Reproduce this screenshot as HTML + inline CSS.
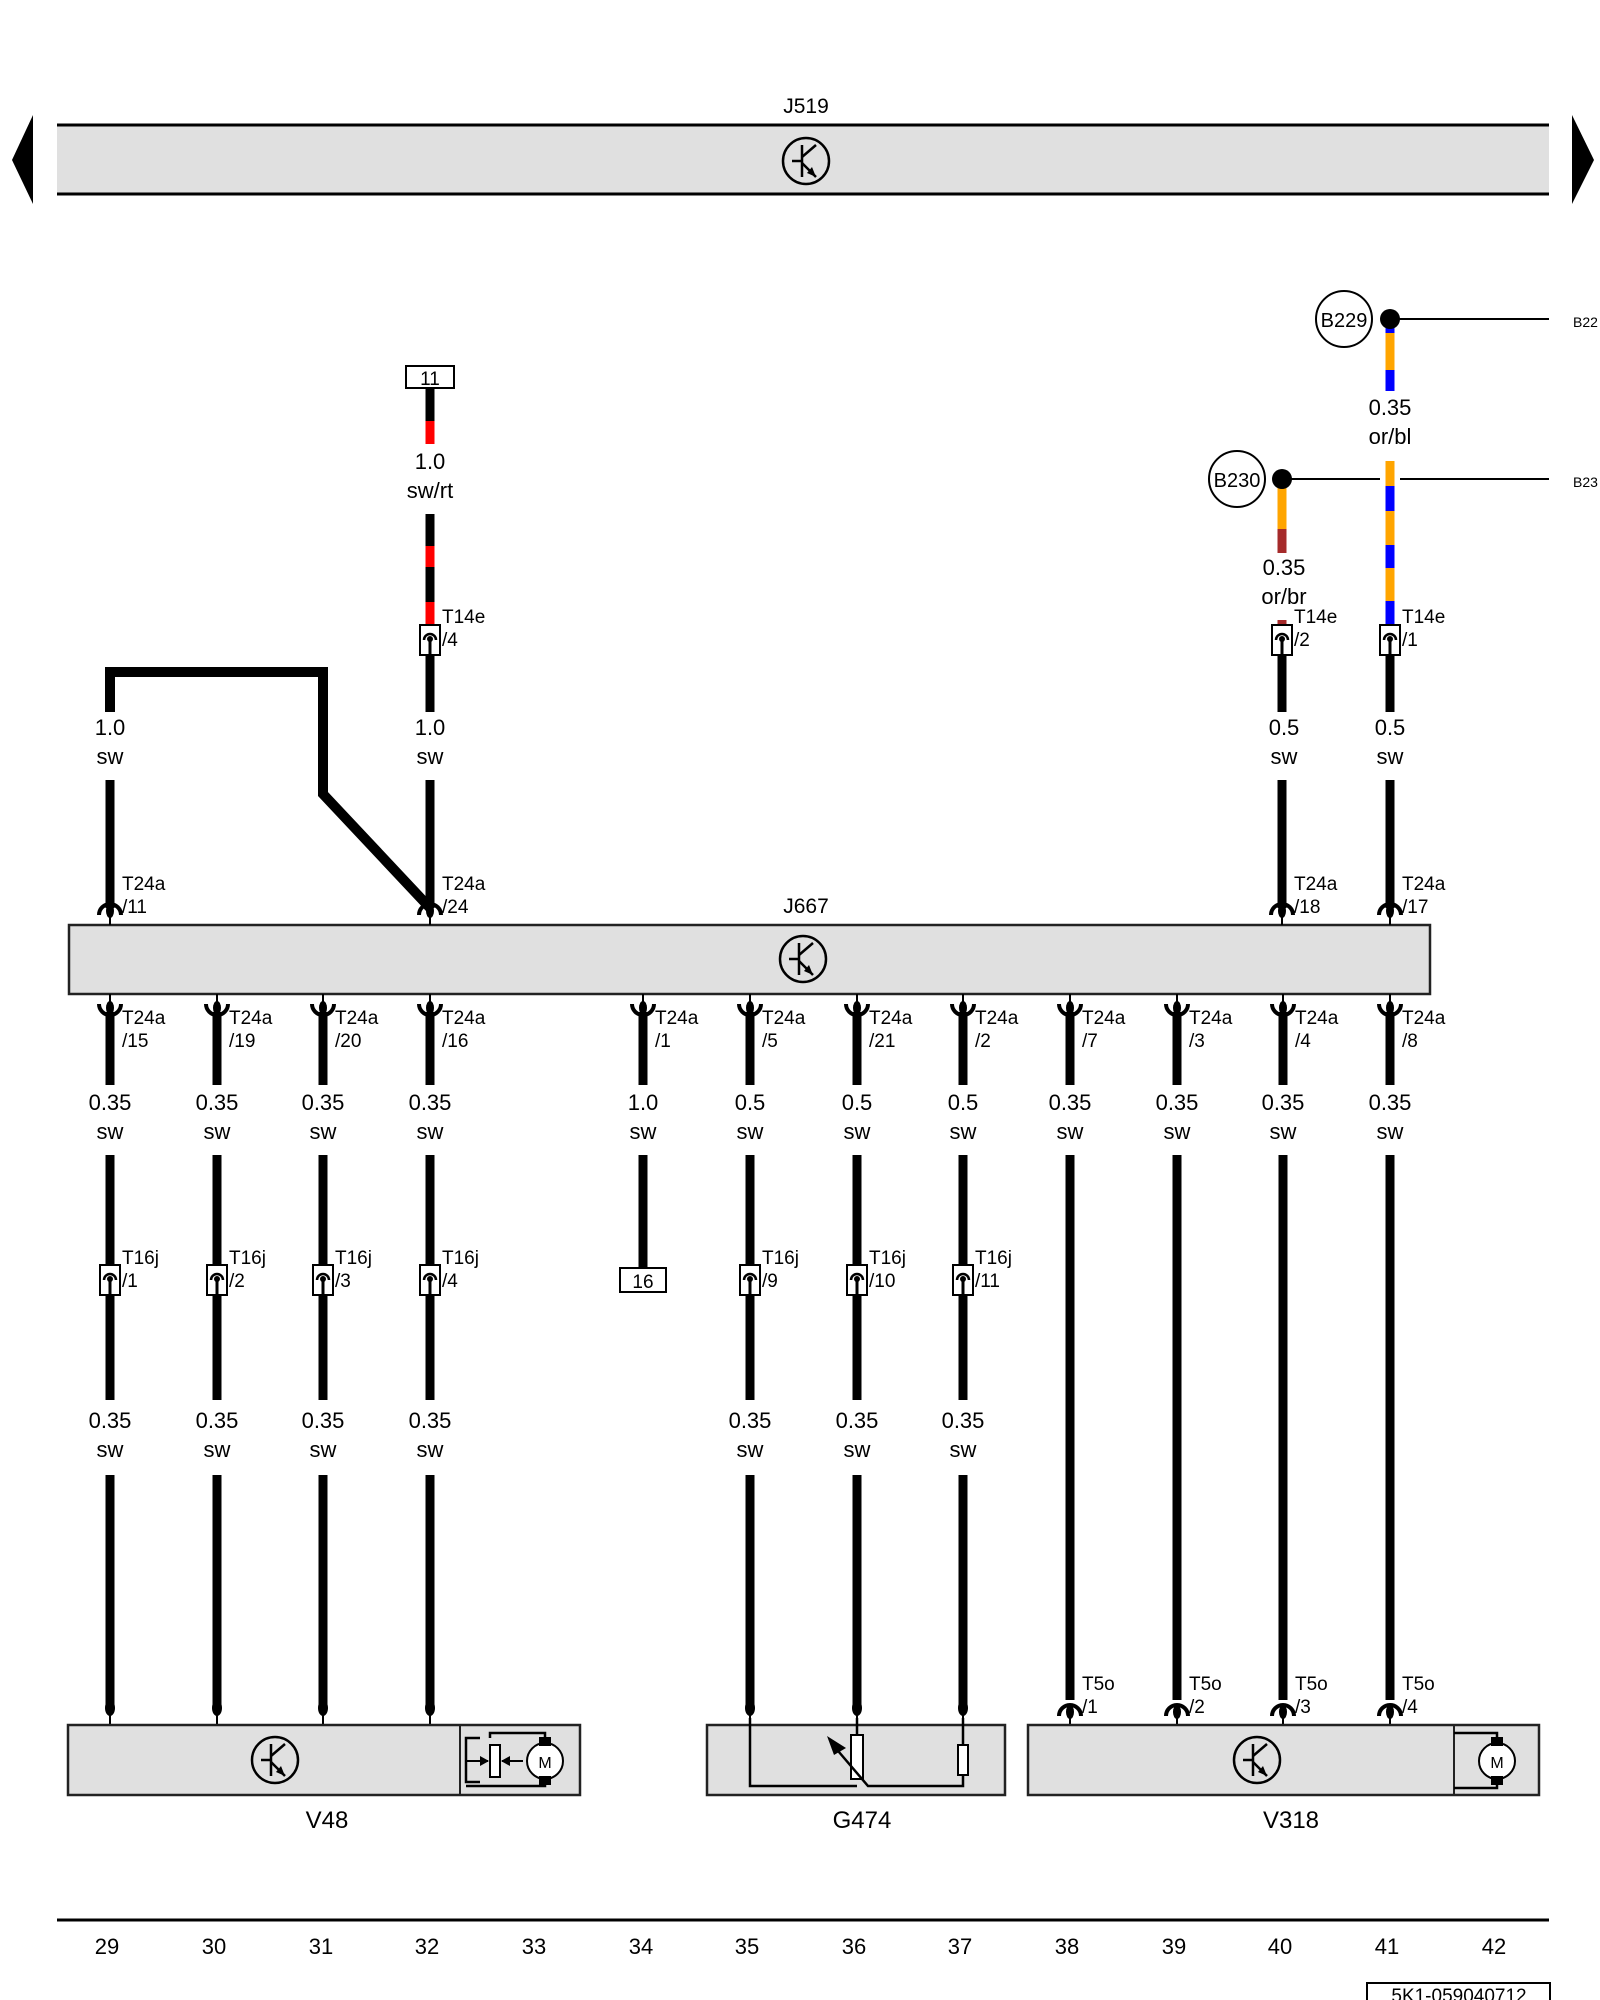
<!DOCTYPE html>
<html><head><meta charset="utf-8"><style>
html,body{margin:0;padding:0;background:#fff;}
svg{display:block;font-family:"Liberation Sans",sans-serif;}
.w{stroke:#000;stroke-width:9;fill:none}
.t{font-size:22px;text-anchor:middle}
.p{font-size:19px}
.b{fill:#e0e0e0;stroke:#222;stroke-width:2.5}
</style></head><body>
<svg width="1600" height="2000" viewBox="0 0 1600 2000" xmlns="http://www.w3.org/2000/svg">
<defs>
<g id="sym"><circle r="23" fill="none" stroke="#000" stroke-width="2.5"/><line x1="-4" y1="-16" x2="-4" y2="16" stroke="#000" stroke-width="2.5"/><line x1="-14" y1="0" x2="-4" y2="0" stroke="#000" stroke-width="2.5"/><line x1="-4" y1="-4" x2="10" y2="-16" stroke="#000" stroke-width="2.5"/><line x1="-4" y1="2" x2="10" y2="16" stroke="#000" stroke-width="2.5"/><polygon points="10,16 1,12 6,6" fill="#000"/></g>
<g id="pd"><path d="M-11,8 A11,11 0 0 1 11,8" fill="none" stroke="#000" stroke-width="4"/><ellipse cx="0" cy="4" rx="4" ry="7"/><line x1="0" y1="8" x2="0" y2="18" stroke="#000" stroke-width="2"/></g>
<g id="pu"><path d="M-11,-8 A11,11 0 0 0 11,-8" fill="none" stroke="#000" stroke-width="4"/><ellipse cx="0" cy="-4" rx="4" ry="7"/><line x1="0" y1="-8" x2="0" y2="-18" stroke="#000" stroke-width="2"/></g>
<g id="cn"><rect x="-10" y="-15" width="20" height="30" fill="#fff" stroke="#000" stroke-width="2"/><path d="M-6,0 A6,6 0 0 1 6,0" fill="none" stroke="#000" stroke-width="2.5"/><line x1="0" y1="-2" x2="0" y2="15" stroke="#000" stroke-width="3"/><circle cx="0" cy="-1" r="3"/></g>
<g id="dt"><ellipse cx="0" cy="0" rx="5" ry="8"/><line x1="0" y1="0" x2="0" y2="18" stroke="#000" stroke-width="2"/></g>
</defs>

<!-- J519 -->
<text x="806" y="113" class="t" style="font-size:21px">J519</text>
<rect x="57" y="125" width="1492" height="69" fill="#e0e0e0"/>
<line x1="57" y1="125" x2="1549" y2="125" stroke="#000" stroke-width="3"/>
<line x1="57" y1="194" x2="1549" y2="194" stroke="#000" stroke-width="3"/>
<use href="#sym" x="806" y="161"/>
<polygon points="33,115 12,160 33,204"/>
<polygon points="1572,115 1594,160 1572,204"/>

<!-- wire 29 upper + loop -->
<polyline points="110,712 110,672 323,672 323,794 430,908" fill="none" stroke="#000" stroke-width="10"/>
<line x1="110" y1="780" x2="110" y2="908" class="w"/>
<text x="110" y="735" class="t">1.0</text><text x="110" y="764" class="t">sw</text>

<!-- col 32 upper -->
<rect x="406" y="366" width="48" height="22" fill="#fff" stroke="#000" stroke-width="2"/><text x="430" y="385" class="t" style="font-size:19px">11</text>
<line x1="430" y1="388" x2="430" y2="444" class="w"/><line x1="430" y1="421" x2="430" y2="444" stroke="#f00" stroke-width="9"/>
<text x="430" y="469" class="t">1.0</text><text x="430" y="498" class="t">sw/rt</text>
<line x1="430" y1="514" x2="430" y2="625" class="w"/>
<line x1="430" y1="546" x2="430" y2="567" stroke="#f00" stroke-width="9"/>
<line x1="430" y1="602" x2="430" y2="625" stroke="#f00" stroke-width="9"/>
<use href="#cn" x="430" y="640"/>
<text x="442" y="623" class="p">T14e</text><text x="442" y="646" class="p">/4</text>
<line x1="430" y1="655" x2="430" y2="712" class="w"/>
<text x="430" y="735" class="t">1.0</text><text x="430" y="764" class="t">sw</text>
<line x1="430" y1="780" x2="430" y2="908" class="w"/>

<!-- right upper -->
<circle cx="1344" cy="319" r="28" fill="#fff" stroke="#000" stroke-width="2"/><text x="1344" y="327" class="t" style="font-size:20px">B229</text>
<line x1="1390" y1="319" x2="1549" y2="319" stroke="#000" stroke-width="2"/>
<text x="1573" y="327" style="font-size:14px">B22</text>
<line x1="1390" y1="319" x2="1390" y2="391" stroke="#ffa500" stroke-width="9"/>
<line x1="1390" y1="325" x2="1390" y2="333" stroke="#00f" stroke-width="9"/>
<line x1="1390" y1="370" x2="1390" y2="391" stroke="#00f" stroke-width="9"/>
<circle cx="1390" cy="319" r="10"/>
<text x="1390" y="415" class="t">0.35</text><text x="1390" y="444" class="t">or/bl</text>
<circle cx="1237" cy="479" r="28" fill="#fff" stroke="#000" stroke-width="2"/><text x="1237" y="487" class="t" style="font-size:20px">B230</text>
<line x1="1282" y1="479" x2="1380" y2="479" stroke="#000" stroke-width="2"/>
<line x1="1400" y1="479" x2="1549" y2="479" stroke="#000" stroke-width="2"/>
<text x="1573" y="487" style="font-size:14px">B23</text>
<line x1="1390" y1="461" x2="1390" y2="625" stroke="#ffa500" stroke-width="9"/>
<line x1="1390" y1="486" x2="1390" y2="511" stroke="#00f" stroke-width="9"/>
<line x1="1390" y1="545" x2="1390" y2="568" stroke="#00f" stroke-width="9"/>
<line x1="1390" y1="601" x2="1390" y2="625" stroke="#00f" stroke-width="9"/>
<line x1="1282" y1="479" x2="1282" y2="553" stroke="#ffa500" stroke-width="9"/>
<line x1="1282" y1="529" x2="1282" y2="553" stroke="#a52a2a" stroke-width="9"/>
<circle cx="1282" cy="479" r="10"/>
<text x="1284" y="575" class="t">0.35</text><text x="1284" y="604" class="t">or/br</text>
<line x1="1282" y1="620" x2="1282" y2="625" stroke="#a52a2a" stroke-width="9"/>
<use href="#cn" x="1282" y="640"/><use href="#cn" x="1390" y="640"/>
<text x="1294" y="623" class="p">T14e</text><text x="1294" y="646" class="p">/2</text>
<text x="1402" y="623" class="p">T14e</text><text x="1402" y="646" class="p">/1</text>
<line x1="1282" y1="655" x2="1282" y2="712" class="w"/><line x1="1390" y1="655" x2="1390" y2="712" class="w"/>
<text x="1284" y="735" class="t">0.5</text><text x="1284" y="764" class="t">sw</text>
<text x="1390" y="735" class="t">0.5</text><text x="1390" y="764" class="t">sw</text>
<line x1="1282" y1="780" x2="1282" y2="908" class="w"/><line x1="1390" y1="780" x2="1390" y2="908" class="w"/>

<!-- J667 -->
<text x="806" y="913" class="t" style="font-size:21px">J667</text>
<rect x="69" y="925" width="1361" height="69" class="b"/>
<use href="#sym" x="803" y="959"/>
<use href="#pd" x="110" y="907"/><use href="#pd" x="430" y="907"/><use href="#pd" x="1282" y="907"/><use href="#pd" x="1390" y="907"/>
<g class="p">
<text x="122" y="890">T24a</text><text x="122" y="913">/11</text>
<text x="442" y="890">T24a</text><text x="442" y="913">/24</text>
<text x="1294" y="890">T24a</text><text x="1294" y="913">/18</text>
<text x="1402" y="890">T24a</text><text x="1402" y="913">/17</text>
</g>

<!-- bottom pins -->
<g>
<use href="#pu" x="110" y="1012"/><use href="#pu" x="217" y="1012"/><use href="#pu" x="323" y="1012"/><use href="#pu" x="430" y="1012"/>
<use href="#pu" x="643" y="1012"/><use href="#pu" x="750" y="1012"/><use href="#pu" x="857" y="1012"/><use href="#pu" x="963" y="1012"/>
<use href="#pu" x="1070" y="1012"/><use href="#pu" x="1177" y="1012"/><use href="#pu" x="1283" y="1012"/><use href="#pu" x="1390" y="1012"/>
</g>
<g class="p">
<text x="122" y="1024">T24a</text><text x="122" y="1047">/15</text>
<text x="229" y="1024">T24a</text><text x="229" y="1047">/19</text>
<text x="335" y="1024">T24a</text><text x="335" y="1047">/20</text>
<text x="442" y="1024">T24a</text><text x="442" y="1047">/16</text>
<text x="655" y="1024">T24a</text><text x="655" y="1047">/1</text>
<text x="762" y="1024">T24a</text><text x="762" y="1047">/5</text>
<text x="869" y="1024">T24a</text><text x="869" y="1047">/21</text>
<text x="975" y="1024">T24a</text><text x="975" y="1047">/2</text>
<text x="1082" y="1024">T24a</text><text x="1082" y="1047">/7</text>
<text x="1189" y="1024">T24a</text><text x="1189" y="1047">/3</text>
<text x="1295" y="1024">T24a</text><text x="1295" y="1047">/4</text>
<text x="1402" y="1024">T24a</text><text x="1402" y="1047">/8</text>
</g>
<g class="w">
<line x1="110" y1="1012" x2="110" y2="1085"/><line x1="217" y1="1012" x2="217" y2="1085"/><line x1="323" y1="1012" x2="323" y2="1085"/><line x1="430" y1="1012" x2="430" y2="1085"/>
<line x1="643" y1="1012" x2="643" y2="1085"/><line x1="750" y1="1012" x2="750" y2="1085"/><line x1="857" y1="1012" x2="857" y2="1085"/><line x1="963" y1="1012" x2="963" y2="1085"/>
<line x1="1070" y1="1012" x2="1070" y2="1085"/><line x1="1177" y1="1012" x2="1177" y2="1085"/><line x1="1283" y1="1012" x2="1283" y2="1085"/><line x1="1390" y1="1012" x2="1390" y2="1085"/>
</g>
<g class="t">
<text x="110" y="1110">0.35</text><text x="217" y="1110">0.35</text><text x="323" y="1110">0.35</text><text x="430" y="1110">0.35</text>
<text x="643" y="1110">1.0</text><text x="750" y="1110">0.5</text><text x="857" y="1110">0.5</text><text x="963" y="1110">0.5</text>
<text x="1070" y="1110">0.35</text><text x="1177" y="1110">0.35</text><text x="1283" y="1110">0.35</text><text x="1390" y="1110">0.35</text>
<text x="110" y="1139">sw</text><text x="217" y="1139">sw</text><text x="323" y="1139">sw</text><text x="430" y="1139">sw</text>
<text x="643" y="1139">sw</text><text x="750" y="1139">sw</text><text x="857" y="1139">sw</text><text x="963" y="1139">sw</text>
<text x="1070" y="1139">sw</text><text x="1177" y="1139">sw</text><text x="1283" y="1139">sw</text><text x="1390" y="1139">sw</text>
</g>
<g class="w">
<line x1="110" y1="1155" x2="110" y2="1400"/><line x1="217" y1="1155" x2="217" y2="1400"/><line x1="323" y1="1155" x2="323" y2="1400"/><line x1="430" y1="1155" x2="430" y2="1400"/>
<line x1="643" y1="1155" x2="643" y2="1268"/><line x1="750" y1="1155" x2="750" y2="1400"/><line x1="857" y1="1155" x2="857" y2="1400"/><line x1="963" y1="1155" x2="963" y2="1400"/>
<line x1="1070" y1="1155" x2="1070" y2="1700"/><line x1="1177" y1="1155" x2="1177" y2="1700"/><line x1="1283" y1="1155" x2="1283" y2="1700"/><line x1="1390" y1="1155" x2="1390" y2="1700"/>
</g>
<rect x="620" y="1268" width="46" height="24" fill="#fff" stroke="#000" stroke-width="2"/><text x="643" y="1288" class="t" style="font-size:19px">16</text>
<use href="#cn" x="110" y="1280"/><use href="#cn" x="217" y="1280"/><use href="#cn" x="323" y="1280"/><use href="#cn" x="430" y="1280"/>
<use href="#cn" x="750" y="1280"/><use href="#cn" x="857" y="1280"/><use href="#cn" x="963" y="1280"/>
<g class="p">
<text x="122" y="1264">T16j</text><text x="122" y="1287">/1</text>
<text x="229" y="1264">T16j</text><text x="229" y="1287">/2</text>
<text x="335" y="1264">T16j</text><text x="335" y="1287">/3</text>
<text x="442" y="1264">T16j</text><text x="442" y="1287">/4</text>
<text x="762" y="1264">T16j</text><text x="762" y="1287">/9</text>
<text x="869" y="1264">T16j</text><text x="869" y="1287">/10</text>
<text x="975" y="1264">T16j</text><text x="975" y="1287">/11</text>
</g>
<g class="t">
<text x="110" y="1428">0.35</text><text x="217" y="1428">0.35</text><text x="323" y="1428">0.35</text><text x="430" y="1428">0.35</text>
<text x="750" y="1428">0.35</text><text x="857" y="1428">0.35</text><text x="963" y="1428">0.35</text>
<text x="110" y="1457">sw</text><text x="217" y="1457">sw</text><text x="323" y="1457">sw</text><text x="430" y="1457">sw</text>
<text x="750" y="1457">sw</text><text x="857" y="1457">sw</text><text x="963" y="1457">sw</text>
</g>
<g class="w">
<line x1="110" y1="1475" x2="110" y2="1706"/><line x1="217" y1="1475" x2="217" y2="1706"/><line x1="323" y1="1475" x2="323" y2="1706"/><line x1="430" y1="1475" x2="430" y2="1706"/>
<line x1="750" y1="1475" x2="750" y2="1706"/><line x1="857" y1="1475" x2="857" y2="1706"/><line x1="963" y1="1475" x2="963" y2="1706"/>
</g>
<use href="#dt" x="110" y="1708"/><use href="#dt" x="217" y="1708"/><use href="#dt" x="323" y="1708"/><use href="#dt" x="430" y="1708"/>
<use href="#dt" x="750" y="1708"/><use href="#dt" x="857" y="1708"/><use href="#dt" x="963" y="1708"/>
<use href="#pd" x="1070" y="1708"/><use href="#pd" x="1177" y="1708"/><use href="#pd" x="1283" y="1708"/><use href="#pd" x="1390" y="1708"/>
<g class="p">
<text x="1082" y="1690">T5o</text><text x="1082" y="1713">/1</text>
<text x="1189" y="1690">T5o</text><text x="1189" y="1713">/2</text>
<text x="1295" y="1690">T5o</text><text x="1295" y="1713">/3</text>
<text x="1402" y="1690">T5o</text><text x="1402" y="1713">/4</text>
</g>

<!-- components -->
<rect x="68" y="1725" width="512" height="70" class="b"/>
<line x1="460" y1="1725" x2="460" y2="1795" stroke="#222" stroke-width="2"/>
<use href="#sym" x="275" y="1760"/>
<polyline points="480,1738 466,1738 466,1782 480,1782" fill="none" stroke="#000" stroke-width="2.5"/>
<polyline points="490,1738 490,1733 545,1733 545,1745" fill="none" stroke="#000" stroke-width="2.5"/>
<polyline points="466,1786 545,1786 545,1775" fill="none" stroke="#000" stroke-width="2.5"/>
<rect x="490" y="1745" width="10" height="32" fill="#fff" stroke="#000" stroke-width="2"/>
<line x1="466" y1="1761" x2="488" y2="1761" stroke="#000" stroke-width="2"/><polygon points="489,1761 480,1756 480,1766"/>
<line x1="502" y1="1761" x2="523" y2="1761" stroke="#000" stroke-width="2"/><polygon points="501,1761 510,1756 510,1766"/>
<circle cx="545" cy="1761" r="18" fill="#fff" stroke="#000" stroke-width="2"/>
<rect x="539" y="1737" width="12" height="9"/><rect x="539" y="1776" width="12" height="9"/>
<text x="545" y="1768" class="t" style="font-size:16px">M</text>
<text x="327" y="1828" class="t" style="font-size:24px">V48</text>

<rect x="707" y="1725" width="298" height="70" class="b"/>
<polyline points="750,1718 750,1786 857,1786" fill="none" stroke="#000" stroke-width="2.5"/>
<polyline points="857,1718 857,1735" fill="none" stroke="#000" stroke-width="2.5"/>
<rect x="851" y="1735" width="12" height="44" fill="#fff" stroke="#000" stroke-width="2"/>
<polyline points="833,1745 868,1786 963,1786 963,1775" fill="none" stroke="#000" stroke-width="2.5"/>
<polygon points="827,1736 846,1748 834,1755"/>
<line x1="963" y1="1718" x2="963" y2="1745" stroke="#000" stroke-width="2.5"/>
<rect x="958" y="1745" width="10" height="30" fill="#fff" stroke="#000" stroke-width="2"/>
<text x="862" y="1828" class="t" style="font-size:24px">G474</text>

<rect x="1028" y="1725" width="511" height="70" class="b"/>
<line x1="1454" y1="1725" x2="1454" y2="1795" stroke="#222" stroke-width="2"/>
<use href="#sym" x="1257" y="1760"/>
<polyline points="1454,1733 1497,1733 1497,1745" fill="none" stroke="#000" stroke-width="2.5"/>
<polyline points="1454,1788 1497,1788 1497,1775" fill="none" stroke="#000" stroke-width="2.5"/>
<circle cx="1497" cy="1761" r="18" fill="#fff" stroke="#000" stroke-width="2"/>
<rect x="1491" y="1737" width="12" height="9"/><rect x="1491" y="1776" width="12" height="9"/>
<text x="1497" y="1768" class="t" style="font-size:16px">M</text>
<text x="1291" y="1828" class="t" style="font-size:24px">V318</text>

<!-- footer -->
<line x1="57" y1="1920" x2="1549" y2="1920" stroke="#000" stroke-width="3"/>
<g class="t">
<text x="107" y="1954">29</text><text x="214" y="1954">30</text><text x="321" y="1954">31</text><text x="427" y="1954">32</text>
<text x="534" y="1954">33</text><text x="641" y="1954">34</text><text x="747" y="1954">35</text><text x="854" y="1954">36</text>
<text x="960" y="1954">37</text><text x="1067" y="1954">38</text><text x="1174" y="1954">39</text><text x="1280" y="1954">40</text>
<text x="1387" y="1954">41</text><text x="1494" y="1954">42</text>
</g>
<rect x="1367" y="1983" width="183" height="25" fill="#fff" stroke="#000" stroke-width="2"/>
<text x="1459" y="2002" class="t" style="font-size:19px">5K1-059040712</text>
</svg>
</body></html>
